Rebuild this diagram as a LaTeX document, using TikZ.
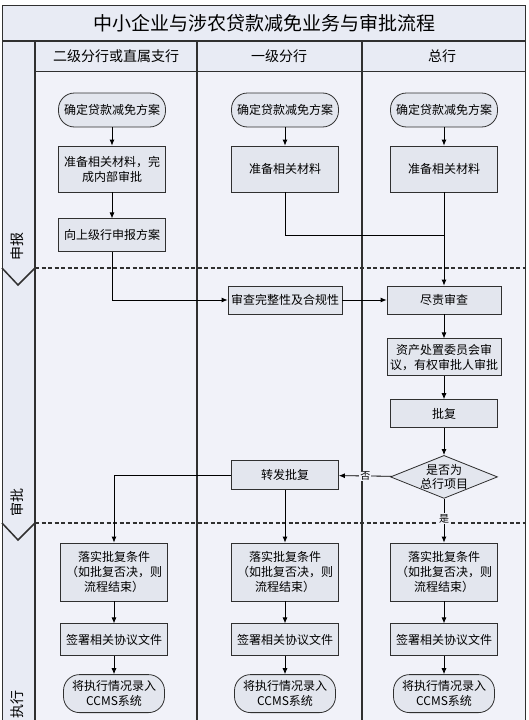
\documentclass[tikz,border=0pt]{standalone}
\usepackage{fontspec}
\setmainfont{Noto Sans CJK SC}
\usetikzlibrary{arrows.meta, positioning, shapes.geometric}
\definecolor{bgfill}{HTML}{F1F2F9}
\definecolor{bandfill}{HTML}{E8EBF4}
\definecolor{boxfill}{HTML}{E3E6EE}
\definecolor{framecol}{HTML}{303030}
\tikzset{farrow/.style = {-{Latex[length=6pt,width=5pt]}, line width=.8pt},
         task/.style = {draw=framecol, fill=boxfill, line width=.8pt, align=center,
                        inner sep=1pt, minimum width=107pt,
                        font=\fontsize{12}{15}\selectfont},
         terminal/.style = {task, rounded corners=16pt, minimum height=34pt},
         decision/.style = {task, diamond, inner sep=-8pt, minimum height=43pt,
                            font=\fontsize{12}{14}\selectfont},
         lanehead/.style = {font=\fontsize{14}{14}\selectfont},
         phaselabel/.style = {rotate=90, font=\fontsize{14}{14}\selectfont}}

\begin{document}
\begin{tikzpicture}[x=1pt, y=-1pt]
    \useasboundingbox (0,0) rectangle (529,720);
    % swimlane frame
    \fill[bgfill] (2,5) rectangle (525,720);
    \fill[bandfill] (2,5) rectangle (525,71);
    \fill[bandfill] (2,71) rectangle (35,720);
    \draw[framecol, line width=1pt] (2,720) -- (2,5) -- (525,5) -- (525,720);
    \draw[framecol, line width=2pt] (2,41) -- (525,41);
    \draw[framecol, line width=1pt] (35,71) -- (525,71);
    \foreach \X in {35,197,362} \draw[framecol, line width=1.2pt] (\X,41) -- (\X,720);
    \foreach \Y in {268,523} {
        \draw[framecol, line width=1.5pt, dash pattern=on 4pt off 2.5pt] (35,\Y) -- (525,\Y);
        \draw[framecol, line width=1.5pt] (2,\Y) -- (18,\Y+17) -- (35,\Y);
    }

    \node (title) at (264,23) {\fontsize{19}{19}\selectfont 中小企业与涉农贷款减免业务与审批流程};
    \node[lanehead] (lane1) at (116,56) {二级分行或直属支行};
    \node[lanehead] (lane2) at (279,56) {一级分行};
    \node[lanehead] (lane3) at (442,56) {总行};
    \node[phaselabel] (apply) at (17,246) {申报};
    \node[phaselabel] (approve) at (17,502) {审批};
    \node[phaselabel] (execute) at (17,704) {执行};

    % 申报
    \foreach \Lane/\X in {1/112, 2/285, 3/444}
        \node[terminal] (plan\Lane) at (\X,110) {确定贷款减免方案};
    \node[task, minimum height=46pt] (prep1) at (112,169) {准备相关材料，完\\成内部审批};
    \node[task, minimum height=46pt] (prep2) at (285,169) {准备相关材料};
    \node[task, minimum height=46pt] (prep3) at (444,169) {准备相关材料};
    \node[task, minimum height=33pt] (report) [below=26pt of prep1] {向上级行申报方案};
    \coordinate (join) at (prep3.south |- 0,235);

    \foreach \Lane in {1,2,3} \draw[farrow] (plan\Lane) -- (prep\Lane);
    \draw[farrow] (prep1) -- (report);
    \draw[line width=.8pt] (prep2) |- (join);

    % 审批
    \node[task, minimum width=114pt, minimum height=28pt] (check) at (285,300) {审查完整性及合规性};
    \node[task, minimum width=114pt, minimum height=28pt] (review) at (444,300) {尽责审查};
    \node[task, minimum width=114pt, minimum height=37pt] (committee) [below=24pt of review] {资产处置委员会审\\议，有权审批人审批};
    \node[task, minimum height=28pt] (reply) [below=23pt of committee] {批复};
    \node[decision] (hq) [below=27pt of reply] {是否为\\总行项目};
    \node[task, minimum height=29pt] (forward) at (285,475) {转发批复};

    \draw[farrow] (prep3) -- (review);
    \draw[farrow] (report) |- (check);
    \draw[farrow] (check) -- (review);
    \draw[farrow] (review) -- (committee);
    \draw[farrow] (committee) -- (reply);
    \draw[farrow] (reply) -- (hq);
    \draw[farrow] (hq) -- node[fill=bgfill, inner sep=1pt] {否} (forward);

    % 执行
    \foreach \Lane/\X in {1/114, 2/285, 3/444} {
        \node[task, minimum height=58pt] (impl\Lane) at (\X,572) {落实批复条件\\（如批复否决，则\\流程结束）};
        \node[task, minimum height=32pt] (sign\Lane) [below=22pt of impl\Lane] {签署相关协议文件};
        \node[terminal, minimum width=101pt, minimum height=38pt] (record\Lane) [below=18pt of sign\Lane] {将执行情况录入\\CCMS系统};
        \draw[farrow] (impl\Lane) -- (sign\Lane);
        \draw[farrow] (sign\Lane) -- (record\Lane);
    }
    \draw[farrow] (forward) -| (impl1);
    \draw[farrow] (forward) -- (impl2);
    \draw[farrow] (hq) -- node[pos=.45, fill=bgfill, inner sep=1pt] {是} (impl3);
\end{tikzpicture}
\end{document}
